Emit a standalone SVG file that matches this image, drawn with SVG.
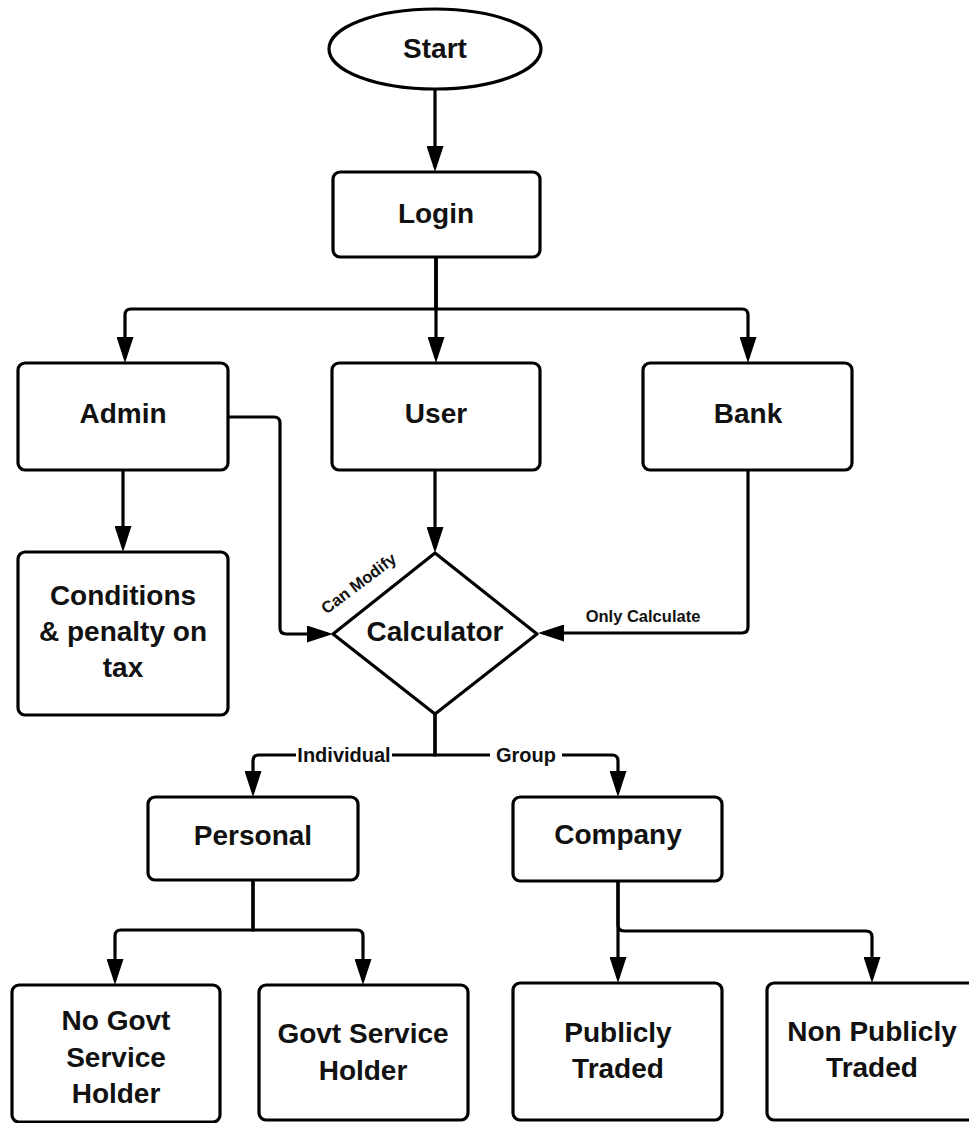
<svg xmlns="http://www.w3.org/2000/svg" width="969" height="1123" viewBox="0 0 969 1123">
  <style>
    .box { fill: #ffffff; stroke: #000000; stroke-width: 3.2; }
    .lbl { font-family: "Liberation Sans", Arial, Helvetica, sans-serif; font-weight: bold; font-size: 28px; fill: #111111; text-anchor: middle; }
    .edge { fill: none; stroke: #000000; stroke-width: 3.2; marker-end: url(#arrow); }
    .line { fill: none; stroke: #000000; stroke-width: 3.2; }
    .elbl { font-family: "Liberation Sans", Arial, Helvetica, sans-serif; font-weight: bold; fill: #111111; }
  </style>
  <defs>
    <marker id="arrow" markerUnits="userSpaceOnUse" markerWidth="26" markerHeight="17" refX="21" refY="8.5" orient="auto">
      <path d="M0,0 L26,8.5 L0,17 z" fill="#000000"/>
    </marker>
  </defs>
  <rect width="969" height="1123" fill="#ffffff"/>

  <!-- connectors -->
  <g id="connectors">
    <path class="edge" d="M435,89 V167"/>
    <path class="edge" d="M436,257 V309 H131 Q125,309 125,315 V358"/>
    <path class="edge" d="M436,257 V358"/>
    <path class="edge" d="M436,257 V309 H742 Q748,309 748,315 V358"/>
    <path class="edge" d="M123,470 V547"/>
    <path class="edge" d="M435,470 V548"/>
    <path class="edge" d="M228,417 H274 Q280,417 280,423 V628 Q280,634 286,634 H328"/>
    <path class="edge" d="M748,470 V627 Q748,633 742,633 H543"/>
    <path class="edge" d="M435,714 V755 H259 Q253,755 253,761 V792"/>
    <path class="edge" d="M435,714 V755 H612 Q618,755 618,761 V792"/>
    <path class="edge" d="M253,880 V930 H121 Q115,930 115,936 V980"/>
    <path class="edge" d="M253,880 V930 H357 Q363,930 363,936 V980"/>
    <path class="edge" d="M618,881 V978"/>
    <path class="edge" d="M618,881 V925 Q618,931 624,931 H866 Q872,931 872,937 V978"/>
    <!-- edge labels -->
    <rect x="296" y="743" width="96" height="24" fill="#ffffff"/>
    <rect x="490" y="743" width="72" height="24" fill="#ffffff"/>
    <text class="elbl" x="344" y="762" font-size="20" text-anchor="middle">Individual</text>
    <text class="elbl" x="526" y="762" font-size="20" text-anchor="middle">Group</text>
    <text class="elbl" x="643" y="622" font-size="16.5" text-anchor="middle">Only Calculate</text>
    <text class="elbl" x="362" y="588" font-size="16.5" text-anchor="middle" transform="rotate(-37 362 588)">Can Modify</text>
  </g>

  <!-- nodes -->
  <g id="start">
    <ellipse class="box" cx="435" cy="49" rx="106" ry="40"/>
    <text class="lbl" x="435" y="58">Start</text>
  </g>
  <g id="login">
    <rect class="box" x="333" y="172" width="207" height="85" rx="7"/>
    <text class="lbl" x="436" y="223">Login</text>
  </g>
  <g id="admin">
    <rect class="box" x="18" y="363" width="210" height="107" rx="7"/>
    <text class="lbl" x="123" y="423">Admin</text>
  </g>
  <g id="user">
    <rect class="box" x="332" y="363" width="208" height="107" rx="7"/>
    <text class="lbl" x="436" y="423">User</text>
  </g>
  <g id="bank">
    <rect class="box" x="643" y="363" width="209" height="107" rx="7"/>
    <text class="lbl" x="748" y="423">Bank</text>
  </g>
  <g id="conditions">
    <rect class="box" x="18" y="552" width="210" height="163" rx="7"/>
    <text class="lbl" x="123" y="605">Conditions</text>
    <text class="lbl" x="123" y="641">&amp; penalty on</text>
    <text class="lbl" x="123" y="677">tax</text>
  </g>
  <g id="calculator">
    <path class="box" d="M435,553 L537,634 L435,714 L333,634 Z" stroke-linejoin="round"/>
    <text class="lbl" x="435" y="641">Calculator</text>
  </g>
  <g id="personal">
    <rect class="box" x="148" y="797" width="210" height="83" rx="7"/>
    <text class="lbl" x="253" y="845">Personal</text>
  </g>
  <g id="company">
    <rect class="box" x="513" y="797" width="209" height="84" rx="7"/>
    <text class="lbl" x="618" y="844">Company</text>
  </g>
  <g id="no-govt">
    <rect class="box" x="12" y="985" width="208" height="137" rx="7"/>
    <text class="lbl" x="116" y="1030">No Govt</text>
    <text class="lbl" x="116" y="1067">Service</text>
    <text class="lbl" x="116" y="1103">Holder</text>
  </g>
  <g id="govt">
    <rect class="box" x="259" y="985" width="209" height="135" rx="7"/>
    <text class="lbl" x="363" y="1043">Govt Service</text>
    <text class="lbl" x="363" y="1080">Holder</text>
  </g>
  <g id="publicly">
    <rect class="box" x="513" y="983" width="209" height="137" rx="7"/>
    <text class="lbl" x="618" y="1042">Publicly</text>
    <text class="lbl" x="618" y="1078">Traded</text>
  </g>
  <g id="non-publicly">
    <rect class="box" x="767" y="983" width="210" height="137" rx="7"/>
    <text class="lbl" x="872" y="1041">Non Publicly</text>
    <text class="lbl" x="872" y="1077">Traded</text>
  </g>
</svg>
